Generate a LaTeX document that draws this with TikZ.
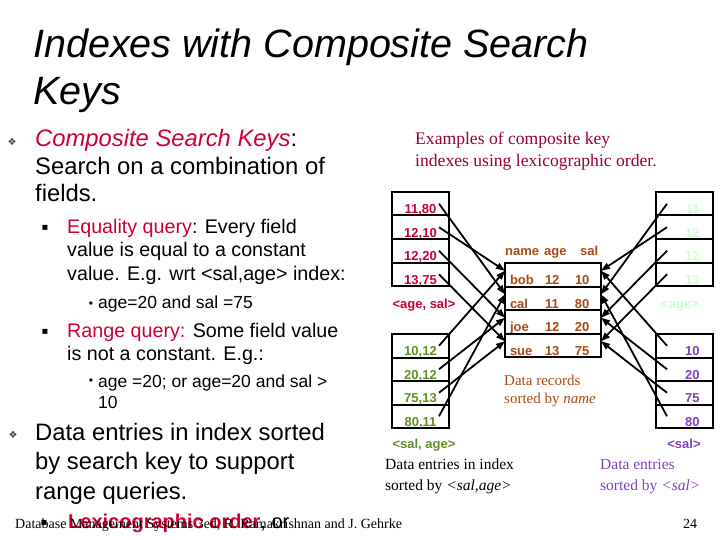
\documentclass[tikz,border=0pt]{standalone}
\usepackage{fontspec}
\setmainfont{Liberation Serif}
\setsansfont{Liberation Sans}
\newfontfamily\symfont{DejaVu Sans}
\usepackage{xcolor}
\usepackage{tikz}
\usetikzlibrary{positioning,arrows.meta}
\definecolor{rojoKey}{RGB}{204,0,51}
\definecolor{rojoEx}{RGB}{153,0,51}
\definecolor{verdeKey}{RGB}{96,144,32}
\definecolor{verdeClaro}{RGB}{204,255,204}
\definecolor{moradoKey}{RGB}{128,64,192}
\definecolor{cafeRec}{RGB}{170,75,20}
\newcommand{\fs}[2]{\fontsize{#1}{#2}\selectfont}

\begin{document}
\begin{tikzpicture}[x=1pt, y=-1pt,
  cell/.style={draw, line width=2pt, outer sep=0pt, inner sep=0pt,
    minimum width=57pt, minimum height=23.5pt, text height=20pt, text depth=0pt,
    font=\sffamily\bfseries\fs{13}{13}},
  cellR/.style={cell, text width=30pt, align=right},
  rec/.style={cell, minimum width=96pt, text width=86pt, align=left, text=cafeRec},
  ptr/.style={-{Triangle[length=9pt,width=6.5pt]}, line width=1.8pt},
  txt/.style={anchor=base west, inner sep=0pt, align=left},
  lbl/.style={anchor=base, inner sep=0pt, font=\sffamily\bfseries\fs{13}{13}},
  bul/.style={inner sep=0pt, font=\symfont\fs{10}{10}}]
  \useasboundingbox (0,0) rectangle (720,540);

  % Title (node base = last line)
  \node[txt, font=\sffamily\itshape\fs{39.5}{47}] (ttl) at (33,105)
    {Indexes with Composite Search\\Keys};

  % Left column text
  \node[bul, text=black!75] (b1) at (12,142) {❖};
  \node[txt, font=\sffamily\fs{23.8}{27.5}] (ck) at (35,202)
    {\textcolor{rojoKey}{\itshape Composite Search Keys}:\\
     Search on a combination of\\fields.};
  \node[bul] (b2) at (45,228) {▪};
  \node[txt, font=\sffamily\fs{19.7}{23.5}] (eq) at (67,280)
    {\textcolor{rojoKey}{Equality query}: Every field\\
     value is equal to a constant\\
     value. E.g. wrt <sal,age> index:};
  \node[bul, font=\sffamily\fs{12}{12}] (b3) at (91,305) {•};
  \node[txt, font=\sffamily\fs{17.5}{21}] (eqex) at (98,308)
    {age=20 and sal =75};
  \node[bul] (b4) at (45,332) {▪};
  \node[txt, font=\sffamily\fs{19.7}{23}] (rq) at (67,360)
    {\textcolor{rojoKey}{Range query:} Some field value\\
     is not a constant. E.g.:};
  \node[bul, font=\sffamily\fs{12}{12}] (b5) at (91,382) {•};
  \node[txt, font=\sffamily\fs{17.5}{21}] (rqex) at (98,408)
    {age =20; or age=20 and sal >\\10};
  \node[bul, text=black!75] (b6) at (13,435) {❖};
  \node[txt, font=\sffamily\fs{23.8}{29.5}] (de) at (35,499)
    {Data entries in index sorted\\
     by search key to support\\
     range queries.};
  \node[bul] (b7) at (44,523) {▪};
  \node[txt, font=\sffamily\fs{20}{20}] (lex) at (68,528)
    {\textcolor{rojoKey}{\bfseries Lexicographic order}, or};

  % Footer
  \node[txt, font=\fs{14}{14}] (foot) at (15,528)
    {Database Management Systems 3ed, R. Ramakrishnan and J. Gehrke};
  \node[txt, font=\fs{14}{14}] (pg) at (683,528) {24};

  % Caption
  \node[txt, text=rojoEx, font=\fs{17.6}{22}] (ex) at (415,167)
    {Examples of composite key\\indexes using lexicographic order.};

  % <age,sal> index
  \node[cell, text=rojoKey] (as1) at (420.5,203.75) {11,80};
  \node[cell, text=rojoKey, below=0pt of as1] (as2) {12,10};
  \node[cell, text=rojoKey, below=0pt of as2] (as3) {12,20};
  \node[cell, text=rojoKey, below=0pt of as3] (as4) {13,75};
  \node[lbl, text=rojoKey] (lblAS) at (424,308) {<age, sal>};

  % <sal,age> index
  \node[cell, text=verdeKey] (sa1) at (420.5,345.75) {10,12};
  \node[cell, text=verdeKey, below=0pt of sa1] (sa2) {20,12};
  \node[cell, text=verdeKey, below=0pt of sa2] (sa3) {75,13};
  \node[cell, text=verdeKey, below=0pt of sa3] (sa4) {80,11};
  \node[lbl, text=verdeKey] (lblSA) at (424,448) {<sal, age>};
  \node[txt, font=\fs{15.5}{21}] (deSA) at (385,490)
    {Data entries in index\\sorted by \textit{<sal,age>}};

  % Data records
  \node[txt, text=cafeRec, font=\sffamily\bfseries\fs{13}{13}] (hdr) at (505,255)
    {\makebox[39pt][l]{name}\makebox[36pt][l]{age}sal};
  \node[rec] (r1) at (553,274.75)
    {\makebox[35pt][l]{bob}\makebox[30pt][l]{12}10};
  \node[rec, below=0pt of r1] (r2)
    {\makebox[35pt][l]{cal}\makebox[30pt][l]{11}80};
  \node[rec, below=0pt of r2] (r3)
    {\makebox[35pt][l]{joe}\makebox[30pt][l]{12}20};
  \node[rec, below=0pt of r3] (r4)
    {\makebox[35pt][l]{sue}\makebox[30pt][l]{13}75};
  \node[txt, text=cafeRec, font=\fs{15}{18}] (drec) at (504,403)
    {Data records\\sorted by \textit{name}};

  % <age> index
  \node[cellR, text=verdeClaro] (ag1) at (684.5,203.75) {11};
  \node[cellR, text=verdeClaro, below=0pt of ag1] (ag2) {12};
  \node[cellR, text=verdeClaro, below=0pt of ag2] (ag3) {12};
  \node[cellR, text=verdeClaro, below=0pt of ag3] (ag4) {13};
  \node[lbl, text=verdeClaro] (lblAge) at (680,308) {<age>};

  % <sal> index
  \node[cellR, text=moradoKey] (sl1) at (684.5,345.75) {10};
  \node[cellR, text=moradoKey, below=0pt of sl1] (sl2) {20};
  \node[cellR, text=moradoKey, below=0pt of sl2] (sl3) {75};
  \node[cellR, text=moradoKey, below=0pt of sl3] (sl4) {80};
  \node[lbl, text=moradoKey] (lblSal) at (684,448) {<sal>};
  \node[txt, text=moradoKey, font=\fs{15.5}{21}] (deSal) at (600,490)
    {Data entries\\sorted by \textit{<sal>}};

  % Pointers into the records
  \draw[ptr] ([xshift=-10pt]as1.east) -- ([yshift=4pt]r2.west);
  \draw[ptr] ([xshift=-10pt]as2.east) -- ([yshift=4pt]r1.west);
  \draw[ptr] ([xshift=-10pt]as3.east) -- ([yshift=4pt]r3.west);
  \draw[ptr] ([xshift=-10pt]as4.east) -- ([yshift=4pt]r4.west);
  \draw[ptr] ([xshift=-10pt]sa1.east) -- ([yshift=4pt]r1.west);
  \draw[ptr] ([xshift=-10pt]sa2.east) -- ([yshift=4pt]r3.west);
  \draw[ptr] ([xshift=-10pt]sa3.east) -- ([yshift=4pt]r4.west);
  \draw[ptr] ([xshift=-10pt]sa4.east) -- ([yshift=4pt]r2.west);
  \draw[ptr] ([xshift=11pt]ag1.west) -- ([yshift=4pt]r2.east);
  \draw[ptr] ([xshift=11pt]ag2.west) -- ([yshift=4pt]r1.east);
  \draw[ptr] ([xshift=11pt]ag3.west) -- ([yshift=4pt]r3.east);
  \draw[ptr] ([xshift=11pt]ag4.west) -- ([yshift=4pt]r4.east);
  \draw[ptr] ([xshift=11pt]sl1.west) -- ([yshift=4pt]r1.east);
  \draw[ptr] ([xshift=11pt]sl2.west) -- ([yshift=4pt]r3.east);
  \draw[ptr] ([xshift=11pt]sl3.west) -- ([yshift=4pt]r4.east);
  \draw[ptr] ([xshift=11pt]sl4.west) -- ([yshift=4pt]r2.east);
\end{tikzpicture}
\end{document}
